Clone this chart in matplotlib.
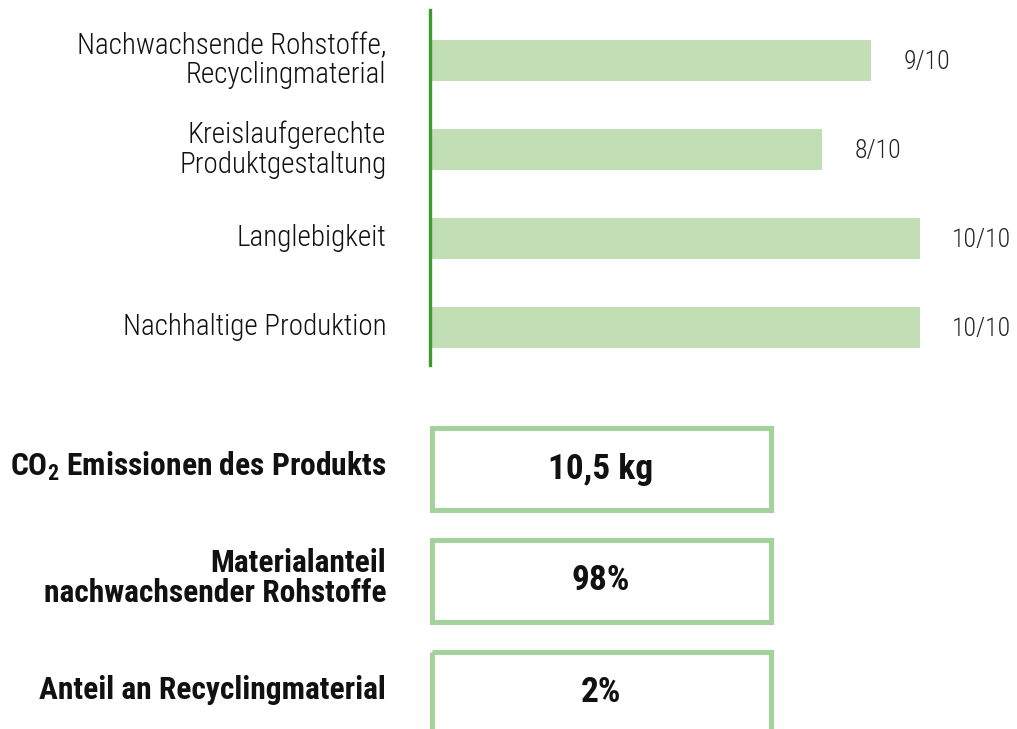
import matplotlib.pyplot as plt
from matplotlib.patches import Rectangle
from matplotlib.transforms import ScaledTranslation

plt.rcParams['font.family'] = ['Roboto Condensed', 'DejaVu Sans']
plt.rcParams['mathtext.default'] = 'regular'

categories = ['Nachwachsende Rohstoffe,\nRecyclingmaterial',
              'Kreislaufgerechte\nProduktgestaltung',
              'Langlebigkeit',
              'Nachhaltige Produktion']
scores = [9, 8, 10, 10]
score_max = 10

kpi_labels = ['CO$_2$ Emissionen des Produkts',
              'Materialanteil\nnachwachsender Rohstoffe',
              'Anteil an Recyclingmaterial']
kpi_values = ['10,5 kg', '98%', '2%']

W, H = 1017, 729
fig = plt.figure(figsize=(W / 100, H / 100), dpi=100)

# bar part
ax = fig.add_axes([430 / W, 1 - 365 / H, 588 / W, 355 / H])
y = list(range(len(categories)))
ax.barh(y, scores, height=0.46, color='#c2deb5', left=0)
ax.set_xlim(0, 12)
ax.set_ylim(3.42, -0.57)
for s in ['top', 'right', 'bottom']:
    ax.spines[s].set_visible(False)
ax.spines['left'].set_color('#3f9a2e')
ax.spines['left'].set_linewidth(2.4)
ax.set_xticks([])
ax.set_yticks(y)
ax.set_yticklabels(categories, fontsize=21, fontweight='light',
                   color='#111111', linespacing=1.05)
ax.tick_params(axis='y', length=0, pad=31.5)
shift = ScaledTranslation(0, 0.035, fig.dpi_scale_trans)
for lbl in ax.get_yticklabels():
    lbl.set_transform(lbl.get_transform() + shift)
for yi, s in zip(y, scores):
    ax.text(s + 0.66, yi + 0.02, f'{s}/{score_max}', fontsize=18.5,
            fontweight='light', color='#222222', va='center', ha='left')

# kpi boxes, drawn in pixel coords
bx = fig.add_axes([0, 0, 1, 1])
bx.set_xlim(0, W)
bx.set_ylim(H, 0)
bx.axis('off')
tops = [425, 537, 649]
for top, lab, val in zip(tops, kpi_labels, kpi_values):
    bx.add_patch(Rectangle((431.5, top + 2.5), 339, 82, fill=False,
                           edgecolor='#a3d29b', linewidth=3.6))
    bx.text(386, top + 41, lab, ha='right', va='center', fontsize=22.7,
            fontweight='bold', color='#111111', linespacing=1.0)
    bx.text(601, top + 44, val, ha='center', va='center', fontsize=25.5,
            fontweight='bold', color='#111111')

fig.savefig('out.png', dpi=100, facecolor='white')
